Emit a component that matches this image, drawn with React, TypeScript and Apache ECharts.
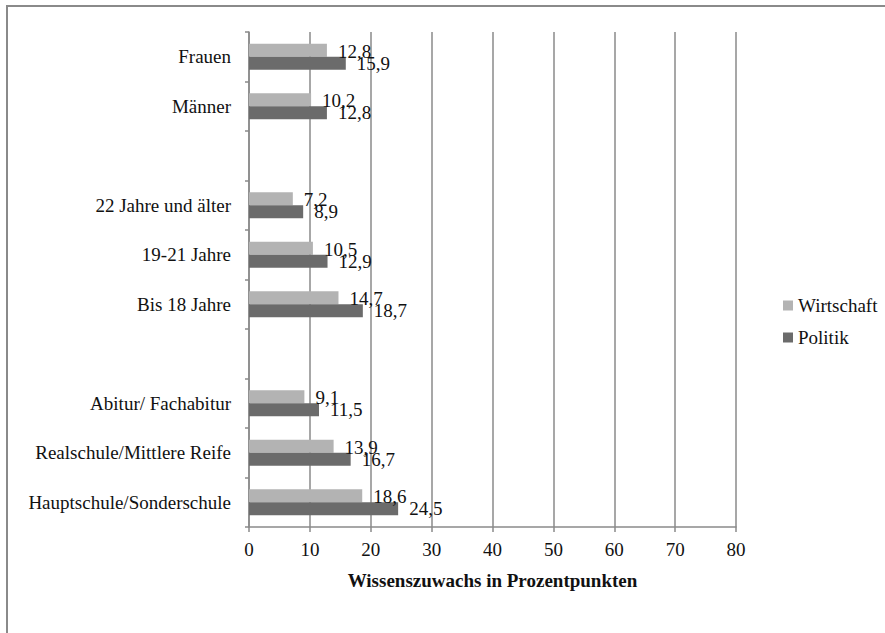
import React, { useEffect, useRef } from "react";
import * as echarts from "echarts";

const categories = [
  "Hauptschule/Sonderschule",
  "Realschule/Mittlere Reife",
  "Abitur/ Fachabitur",
  "",
  "Bis 18 Jahre",
  "19-21 Jahre",
  "22 Jahre und älter",
  " ",
  "Männer",
  "Frauen",
];
const wirtschaft = [18.6, 13.9, 9.1, null, 14.7, 10.5, 7.2, null, 10.2, 12.8];
const politik = [24.5, 16.7, 11.5, null, 18.7, 12.9, 8.9, null, 12.8, 15.9];
const seriesNames = ["Wirtschaft", "Politik"];
const xTicks = { min: 0, max: 80, interval: 10 };
const axisTitle = "Wissenszuwachs in Prozentpunkten";

const FONT = "Times New Roman";
const GRID_COLOR = "#8a8a8a";

export default function App() {
  const ref = useRef<HTMLDivElement>(null);
  useEffect(() => {
    if (!ref.current) return;
    const chart = echarts.init(ref.current, undefined, { renderer: "svg" });
    const fmt = (p: any) =>
      p.value == null ? "" : Number(p.value).toFixed(1).replace(".", ",");
    chart.setOption({
      animation: false,
      backgroundColor: "#ffffff",
      textStyle: { fontFamily: FONT },
      grid: {
        left: 249,
        right: 149,
        top: 32,
        bottom: 106,
        containLabel: false,
        outerBoundsMode: "none",
      },
      legend: {
        orient: "vertical",
        left: 778,
        top: 291,
        itemWidth: 10,
        itemHeight: 10,
        itemGap: 13,
        icon: "rect",
        textStyle: { fontFamily: FONT, fontSize: 19, color: "#111" },
        data: seriesNames,
      },
      xAxis: {
        type: "value",
        min: xTicks.min,
        max: xTicks.max,
        interval: xTicks.interval,
        name: axisTitle,
        nameLocation: "middle",
        nameGap: 44,
        nameTextStyle: {
          fontFamily: FONT,
          fontSize: 19,
          fontWeight: "bold",
          color: "#111",
        },
        axisLine: { show: true, lineStyle: { color: GRID_COLOR, width: 1.5 } },
        axisTick: { show: true, length: 5, lineStyle: { color: GRID_COLOR, width: 1.5 } },
        axisLabel: { fontFamily: FONT, fontSize: 19, color: "#111", margin: 13 },
        splitLine: { show: true, lineStyle: { color: GRID_COLOR, width: 1.5 } },
      },
      yAxis: {
        type: "category",
        data: categories,
        axisLine: { show: true, lineStyle: { color: GRID_COLOR, width: 1.5 } },
        axisTick: {
          show: true,
          length: 4,
          alignWithLabel: false,
          lineStyle: { color: GRID_COLOR, width: 1.5 },
        },
        axisLabel: { fontFamily: FONT, fontSize: 19, color: "#111", margin: 18 },
        splitLine: { show: false },
      },
      series: [
        {
          name: seriesNames[0],
          type: "bar",
          data: wirtschaft,
          barWidth: 13,
          barGap: "0%",
          itemStyle: { color: "#b3b3b3" },
          label: {
            show: true,
            position: "right",
            distance: 11,
            offset: [0, 1],
            formatter: fmt,
            fontFamily: FONT,
            fontSize: 19,
            color: "#111",
          },
        },
        {
          name: seriesNames[1],
          type: "bar",
          data: politik,
          barWidth: 13,
          barGap: "0%",
          itemStyle: { color: "#6b6b6b" },
          label: {
            show: true,
            position: "right",
            distance: 11,
            formatter: fmt,
            fontFamily: FONT,
            fontSize: 19,
            color: "#111",
          },
        },
      ],
      graphic: [
        {
          type: "line",
          shape: { x1: 7, y1: 6, x2: 7, y2: 633 },
          style: { stroke: "#8a8a8a", lineWidth: 2 },
          silent: true,
        },
        {
          type: "line",
          shape: { x1: 6, y1: 6, x2: 885, y2: 6 },
          style: { stroke: "#8a8a8a", lineWidth: 2 },
          silent: true,
        },
      ],
    });
    return () => chart.dispose();
  }, []);
  return (
    <div
      ref={ref}
      style={{ position: "fixed", left: 0, top: 0, width: 885, height: 633 }}
    />
  );
}
